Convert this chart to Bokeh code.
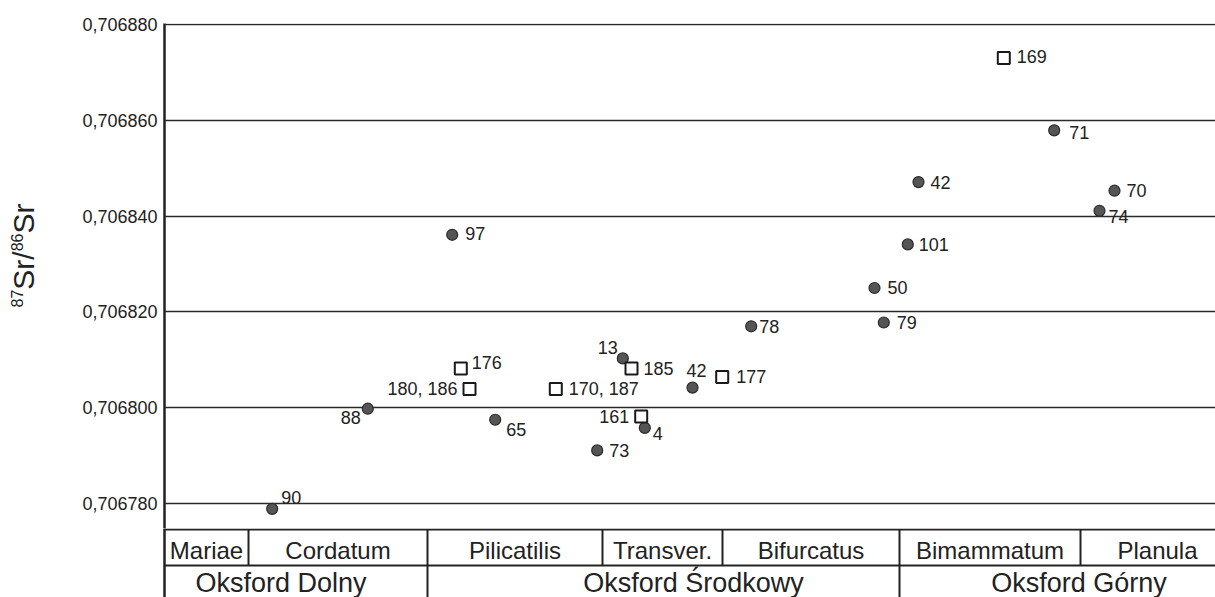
import math
from bokeh.plotting import figure
from bokeh.models import (Range1d, FixedTicker, CustomJSTickFormatter,
                          ColumnDataSource)
from bokeh.layouts import column, row
from bokeh.embed import file_html
from bokeh.resources import INLINE
from bokeh.core.properties import value

# ---------------- data ----------------
# relative stratigraphic position (arbitrary units along the Oxfordian)
circle_ids = ["90", "88", "65", "97", "13", "4", "73", "42", "78", "79",
              "50", "101", "42", "71", "70", "74"]
circle_pos = [107.7, 203.3, 330.7, 287.7, 458.3, 480.3, 432.7, 528.0, 586.7,
              719.3, 710.0, 743.3, 754.0, 889.7, 950.0, 935.0]
circle_sr = [0.7067789, 0.7067998, 0.7067975, 0.7068361, 0.7068103, 0.7067958,
             0.7067911, 0.7068042, 0.7068170, 0.7068178, 0.7068250, 0.7068341,
             0.7068471, 0.7068579, 0.7068453, 0.7068411]

square_ids = ["176", "180, 186", "170, 187", "185", "161", "177", "169"]
square_pos = [296.3, 305.0, 391.3, 467.0, 476.7, 557.7, 839.3]
square_sr = [0.7068082, 0.7068039, 0.7068039, 0.7068082, 0.7067982,
             0.7068064, 0.7068730]

zones = ["Mariae", "Cordatum", "Pilicatilis", "Transver.", "Bifurcatus",
         "Bimammatum", "Planula"]
zone_edges = [0, 84, 263, 438, 558, 735, 916, 1070]
stages = ["Oksford Dolny", "Oksford Środkowy", "Oksford Górny"]
stage_edges = [0, 263, 735, 1070]

y_ticks = [0.706780, 0.706800, 0.706820, 0.706840, 0.706860, 0.706880]

# ---------------- label placement (screen px) ----------------
circle_lab_dx = [9, -7, 11, 13, -5, 8, 12, 4, 8, 13, 13, 11, 12, 15, 12, 9]
circle_lab_dy = [-11, 9, 10, -1, -11, 6, 0, -17, 0, 0, 0, 0, 0, 2, 0, 6]
circle_lab_al = ["left", "right", "left", "left", "right", "left", "left",
                 "center", "left", "left", "left", "left", "left", "left",
                 "left", "left"]
square_lab_dx = [11, -12, 13, 12, -12, 14, 13]
square_lab_dy = [-6, 0, 0, 0, 0, -1, -1]
square_lab_al = ["left", "right", "left", "left", "right", "left", "left"]
stage_lab_dx = [-15, 30, 12]

FONT = "Liberation Sans"
INK = "#222222"

TITLE_W = 60
TOTAL_W = 1215
TOTAL_H = 597

# ---------------- axis title panel (87Sr/86Sr) ----------------
tf = figure(width=TITLE_W, height=TOTAL_H, x_range=Range1d(0, TITLE_W),
            y_range=Range1d(0, TOTAL_H), output_backend="svg",
            toolbar_location=None, min_border_left=0, min_border_right=0,
            min_border_top=0, min_border_bottom=0)
tf.axis.visible = False
tf.grid.visible = False
tf.outline_line_color = None

pieces = ["87", "Sr/", "86", "Sr"]
piece_size = [16, 30, 16, 30]
piece_em = {"87": 2 * 0.556, "86": 2 * 0.556, "Sr/": 1.278, "Sr": 1.0}
piece_mid_x = [16, 23, 16, 23]
cur = 307.0  # page y where the title starts (bottom end)
for txt, fs, mx in zip(pieces, piece_size, piece_mid_x):
    tf.text(x=[mx], y=[TOTAL_H - cur], text=[txt], angle=math.pi / 2,
            text_align="left", text_baseline="middle",
            text_font=value(FONT), text_font_size=f"{fs}px", text_color=INK)
    cur -= piece_em[txt] * fs

# ---------------- main plot ----------------
Y_TOP = 0.7068802
Y_BOT = 0.7067748
FRAME_TOP_PX = 23
FRAME_H = 505
LEFT_B = 164 - TITLE_W

p = figure(width=TOTAL_W - TITLE_W, height=FRAME_TOP_PX + FRAME_H,
           x_range=Range1d(0, 1051), y_range=Range1d(Y_BOT, Y_TOP),
           output_backend="svg", toolbar_location=None,
           min_border_left=LEFT_B, min_border_right=0,
           min_border_top=FRAME_TOP_PX, min_border_bottom=0)
p.outline_line_color = None
p.xaxis.visible = False
p.xgrid.visible = False
p.yaxis.ticker = FixedTicker(ticks=y_ticks)
p.ygrid.ticker = FixedTicker(ticks=y_ticks)
p.ygrid.grid_line_color = "#2a2a2a"
p.ygrid.grid_line_width = 1.5
p.yaxis.formatter = CustomJSTickFormatter(code="return tick.toFixed(6).replace('.', ',');")
p.yaxis.axis_line_width = 2.5
p.yaxis.axis_line_color = INK
p.yaxis.major_tick_line_color = None
p.yaxis.minor_tick_line_color = None
p.yaxis.major_tick_out = 0
p.yaxis.major_tick_in = 0
p.yaxis.major_label_standoff = 7
p.yaxis.major_label_text_font = FONT
p.yaxis.major_label_text_font_size = "18px"
p.yaxis.major_label_text_color = INK

csrc = ColumnDataSource(dict(x=circle_pos, y=circle_sr, t=circle_ids,
                             dx=circle_lab_dx, dy=circle_lab_dy, al=circle_lab_al))
ssrc = ColumnDataSource(dict(x=square_pos, y=square_sr, t=square_ids,
                             dx=square_lab_dx, dy=square_lab_dy, al=square_lab_al))

p.scatter("x", "y", source=csrc, marker="circle", size=11,
          fill_color="#555555", line_color="#2b2b2b", line_width=1.2)
p.scatter("x", "y", source=ssrc, marker="square", size=12,
          fill_color="white", line_color="#1a1a1a", line_width=2)

for src in (csrc, ssrc):
    p.text("x", "y", text="t", source=src, x_offset="dx", y_offset="dy",
           text_align="al", text_baseline="middle",
           text_font=value(FONT), text_font_size="18px", text_color=INK)

# ---------------- zone table ----------------
TABLE_H = TOTAL_H - FRAME_TOP_PX - FRAME_H
t = figure(width=TOTAL_W - TITLE_W, height=TABLE_H, x_range=p.x_range,
           y_range=Range1d(0.1111, 2.0278),
           output_backend="svg", toolbar_location=None,
           min_border_left=LEFT_B, min_border_right=0, min_border_top=0,
           min_border_bottom=0)
t.outline_line_color = None
t.xaxis.visible = False
t.grid.visible = False
t.yaxis.ticker = FixedTicker(ticks=[])
t.yaxis.axis_line_width = 2.5
t.yaxis.axis_line_color = INK
t.yaxis.major_tick_line_color = None
t.yaxis.minor_tick_line_color = None

right_end = zone_edges[-1] + 50
# horizontal rules
t.segment(x0=[0, 0], y0=[2, 1], x1=[right_end, right_end], y1=[2, 1],
          line_color=INK, line_width=2)
# zone separators (upper row)
zsep = zone_edges[1:-1]
t.segment(x0=zsep, y0=[1] * len(zsep), x1=zsep, y1=[2] * len(zsep),
          line_color=INK, line_width=2)
# stage separators (lower row)
ssep = stage_edges[1:-1]
t.segment(x0=ssep, y0=[-1] * len(ssep), x1=ssep, y1=[1] * len(ssep),
          line_color=INK, line_width=2)

zone_mid = [(a + b) / 2 for a, b in zip(zone_edges[:-1], zone_edges[1:])]
t.text(x=zone_mid, y=[1.4167] * len(zones), text=zones, text_align="center",
       text_baseline="middle", text_font=value(FONT), text_font_size="24px",
       text_color=INK)
stage_mid = [(a + b) / 2 for a, b in zip(stage_edges[:-1], stage_edges[1:])]
t.text(x=stage_mid, y=[0.52] * len(stages), text=stages, x_offset=stage_lab_dx,
       text_align="center", text_baseline="middle", text_font=value(FONT),
       text_font_size="27px", text_color=INK)

layout = row(tf, column(p, t, spacing=0), spacing=0)
open("out.html", "w").write(file_html(layout, INLINE))
